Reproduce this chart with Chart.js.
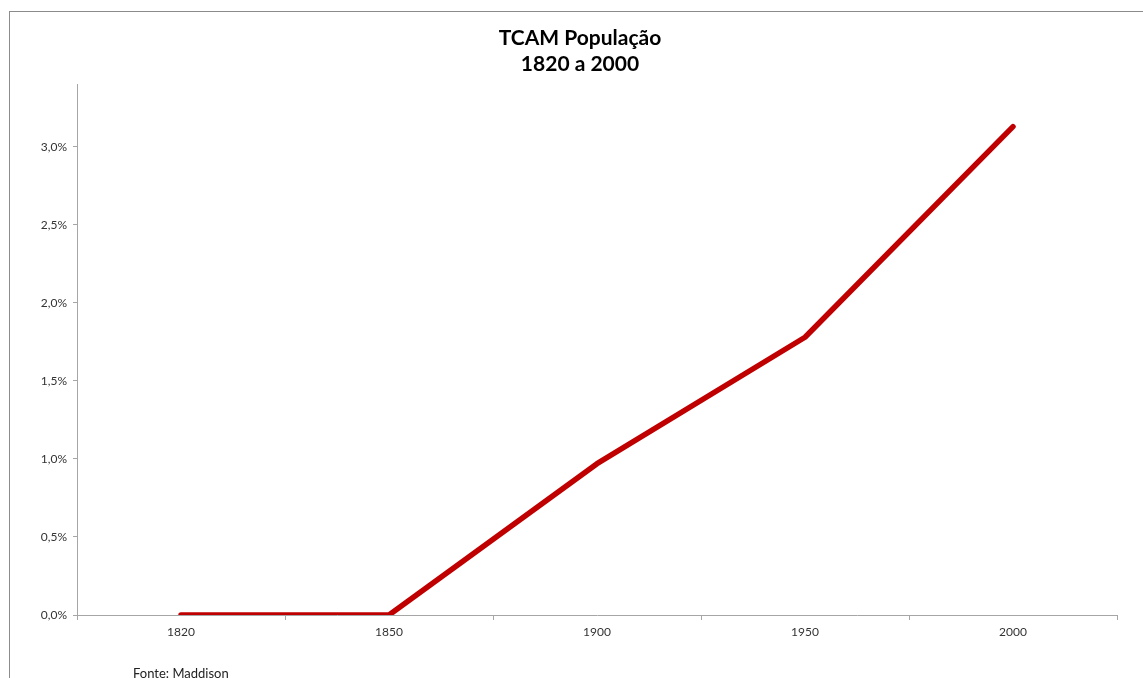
<!DOCTYPE html>
<html>
<head>
<meta charset="utf-8">
<script src="https://cdn.jsdelivr.net/npm/chart.js@4/dist/chart.umd.min.js"></script>
<style>
    html, body { margin: 0; padding: 0; background: #fff; overflow: hidden; }
    #frame {
        position: absolute; left: 9px; top: 11px; width: 1200px; height: 700px;
        border: 1px solid #8c8c8c;
    }
    #wrap { position: absolute; left: 0; top: 0; width: 1143px; height: 678px; }
    #fonte {
        position: absolute; left: 133px; top: 665px;
        font: 13px Lato, "Open Sans", sans-serif; color: #222;
    }
</style>
</head>
<body>
<div id="frame"></div>
<div id="wrap"><canvas id="tcam-chart" width="1143" height="678"></canvas></div>
<div id="fonte">Fonte: Maddison</div>
<script>
const years = ['1820', '1850', '1900', '1950', '2000'];
const tcamValues = [0.0, 0.0, 0.97, 1.78, 3.13];   // % ao ano
const titleLines = ['TCAM População', '1820 a 2000'];

const axisGray = '#a6a6a6';

function fmtPct(v) {
    return v.toFixed(1).replace('.', ',') + '%';
}

document.addEventListener('DOMContentLoaded', () => {
    const ctx = document.getElementById('tcam-chart').getContext('2d');
    new Chart(ctx, {
        type: 'line',
        data: {
            labels: years,
            datasets: [{
                label: 'TCAM',
                data: tcamValues,
                borderColor: '#C00000',
                borderWidth: 5.5,
                borderCapStyle: 'round',
                borderJoinStyle: 'round',
                pointRadius: 0,
                tension: 0,
                fill: false
            }]
        },
        options: {
            responsive: false,
            animation: false,
            layout: { padding: { left: 17, right: 0, top: 0, bottom: 33 } },
            plugins: {
                legend: { display: false },
                tooltip: { enabled: false },
                title: {
                    display: true,
                    text: titleLines,
                    color: '#000',
                    font: { family: 'Lato', size: 21, weight: 'bold', lineHeight: 1.25 },
                    padding: { top: 25, bottom: 7 }
                }
            },
            scales: {
                x: {
                    offset: true,
                    afterFit: scale => { scale.height = 30; },
                    grid: {
                        offset: true,
                        drawOnChartArea: false,
                        tickLength: 5,
                        color: axisGray
                    },
                    border: { display: true, color: axisGray, width: 1 },
                    ticks: {
                        color: '#333',
                        padding: 5,
                        font: { family: 'Lato', size: 12 }
                    }
                },
                y: {
                    min: 0,
                    max: 3.4,
                    afterFit: scale => { scale.width = 60; },
                    afterBuildTicks: scale => {
                        // keep only the 0,5% steps, not the 3,4% axis end
                        scale.ticks = scale.ticks.filter(t => Math.abs(t.value * 2 - Math.round(t.value * 2)) < 1e-6);
                    },
                    grid: {
                        drawOnChartArea: false,
                        tickLength: 4,
                        color: axisGray
                    },
                    border: { display: true, color: axisGray, width: 1 },
                    ticks: {
                        stepSize: 0.5,
                        color: '#333',
                        padding: 6,
                        font: { family: 'Lato', size: 12 },
                        callback: v => fmtPct(v)
                    }
                },
                // empty right-hand strip so the plot ends short of the frame
                spacer: {
                    position: 'right',
                    afterFit: scale => { scale.width = 26; },
                    grid: { display: false },
                    border: { display: false },
                    ticks: { display: false }
                }
            }
        }
    });
});
</script>
</body>
</html>
